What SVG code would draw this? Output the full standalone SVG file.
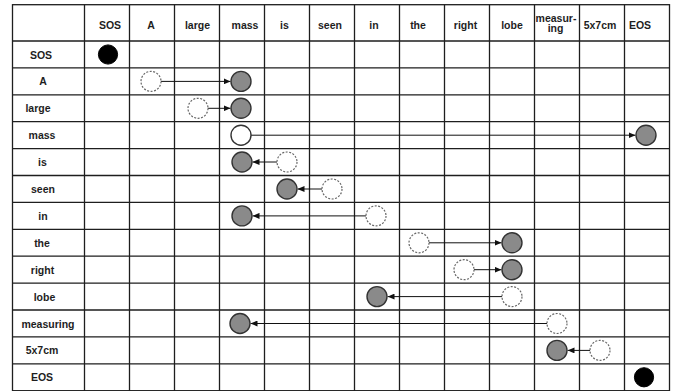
<svg xmlns="http://www.w3.org/2000/svg" width="674" height="391" viewBox="0 0 674 391">
<style>
.grid{stroke:#1e1e1e;stroke-width:1.3;fill:none}
.t{font-family:"Liberation Sans",Arial,sans-serif;font-weight:bold;font-size:10.5px;fill:#1e1e1e;text-anchor:middle}
.head{fill:#8a8a8a;stroke:#333;stroke-width:1.4}
.src{fill:#fff;stroke:#666;stroke-width:1.2;stroke-dasharray:2 1.5}
.solid{fill:#fff;stroke:#333;stroke-width:1.4}
.end{fill:#000;stroke:#000;stroke-width:1}
.arr{stroke:#111;stroke-width:1;fill:none;marker-end:url(#ah)}
</style>
<defs>
<marker id="ah" markerWidth="7" markerHeight="6" refX="7" refY="3" orient="auto" markerUnits="userSpaceOnUse">
<path d="M0,0 L7,3 L0,6 z" fill="#111"/>
</marker>
</defs>
<rect width="674" height="391" fill="#fff"/>
<g id="grid" class="grid">
<rect x="12.5" y="4.7" width="657" height="386"/>
<path d="M84.5,4.7V391 M129.5,4.7V391 M174.5,4.7V391 M219.5,4.7V391 M264.5,4.7V391 M309.5,4.7V391 M354.5,4.7V391 M399.5,4.7V391 M444.5,4.7V391 M489.5,4.7V391 M534.5,4.7V391 M579.5,4.7V391 M624.5,4.7V391"/>
<path d="M12.5,41H669.5 M12.5,67.9H669.5 M12.5,94.8H669.5 M12.5,121.7H669.5 M12.5,148.6H669.5 M12.5,175.5H669.5 M12.5,202.4H669.5 M12.5,229.3H669.5 M12.5,256.2H669.5 M12.5,283.1H669.5 M12.5,310H669.5 M12.5,336.9H669.5 M12.5,363.8H669.5"/>
</g>
<g id="header">
<text class="t" x="110" y="29.3">SOS</text>
<text class="t" x="151" y="29.3">A</text>
<text class="t" x="197.5" y="29.3">large</text>
<text class="t" x="245" y="29.3">mass</text>
<text class="t" x="284.5" y="29.3">is</text>
<text class="t" x="330" y="29.3">seen</text>
<text class="t" x="374" y="29.3">in</text>
<text class="t" x="418" y="29.3">the</text>
<text class="t" x="465.5" y="29.3">right</text>
<text class="t" x="512" y="29.3">lobe</text>
<text class="t" x="556" y="21.5">measur-</text>
<text class="t" x="555.5" y="32">ing</text>
<text class="t" x="600" y="29.3">5x7cm</text>
<text class="t" x="640" y="29.3">EOS</text>
</g>
<g id="rowlabels">
<text class="t" x="41" y="58.5">SOS</text>
<text class="t" x="43" y="85.4">A</text>
<text class="t" x="38" y="112.3">large</text>
<text class="t" x="42" y="139.2">mass</text>
<text class="t" x="42.5" y="166.1">is</text>
<text class="t" x="43" y="193">seen</text>
<text class="t" x="43" y="219.9">in</text>
<text class="t" x="42" y="246.8">the</text>
<text class="t" x="42.5" y="273.7">right</text>
<text class="t" x="44.5" y="300.6">lobe</text>
<text class="t" x="48" y="327.5">measuring</text>
<text class="t" x="42" y="354.4">5x7cm</text>
<text class="t" x="42" y="381.3">EOS</text>
</g>
<g id="connectors">
<line class="arr" x1="161" y1="81.4" x2="230.5" y2="81.4"/>
<line class="arr" x1="208" y1="108.3" x2="230.5" y2="108.3"/>
<line class="arr" x1="251" y1="135.2" x2="635.5" y2="135.2"/>
<line class="arr" x1="277" y1="162" x2="252.5" y2="162"/>
<line class="arr" x1="322" y1="189" x2="297.5" y2="189"/>
<line class="arr" x1="366" y1="215.9" x2="252.5" y2="215.9"/>
<line class="arr" x1="429" y1="242.8" x2="501.5" y2="242.8"/>
<line class="arr" x1="474" y1="269.7" x2="501.5" y2="269.7"/>
<line class="arr" x1="502" y1="296.6" x2="387.5" y2="296.6"/>
<line class="arr" x1="547" y1="323.5" x2="250.5" y2="323.5"/>
<line class="arr" x1="590" y1="350.4" x2="567.5" y2="350.4"/>
</g>
<g id="nodes">
<g id="n-sos"><circle class="end" cx="108" cy="54.5" r="9.6"/></g>
<g id="n-a-src"><circle class="src" cx="151" cy="81.4" r="10"/></g>
<g id="n-a-head"><circle class="head" cx="241" cy="81.4" r="10"/></g>
<g id="n-large-src"><circle class="src" cx="198" cy="108.3" r="10"/></g>
<g id="n-large-head"><circle class="head" cx="241" cy="108.3" r="10"/></g>
<g id="n-mass-src"><circle class="solid" cx="241" cy="135.2" r="10"/></g>
<g id="n-mass-head"><circle class="head" cx="646" cy="135.2" r="10"/></g>
<g id="n-is-src"><circle class="src" cx="287" cy="162" r="10"/></g>
<g id="n-is-head"><circle class="head" cx="242" cy="162" r="10"/></g>
<g id="n-seen-src"><circle class="src" cx="332" cy="189" r="10"/></g>
<g id="n-seen-head"><circle class="head" cx="287" cy="189" r="10"/></g>
<g id="n-in-src"><circle class="src" cx="376" cy="215.9" r="10"/></g>
<g id="n-in-head"><circle class="head" cx="242" cy="215.9" r="10"/></g>
<g id="n-the-src"><circle class="src" cx="419" cy="242.8" r="10"/></g>
<g id="n-the-head"><circle class="head" cx="512" cy="242.8" r="10"/></g>
<g id="n-right-src"><circle class="src" cx="464" cy="269.7" r="10"/></g>
<g id="n-right-head"><circle class="head" cx="512" cy="269.7" r="10"/></g>
<g id="n-lobe-src"><circle class="src" cx="512" cy="296.6" r="10"/></g>
<g id="n-lobe-head"><circle class="head" cx="377" cy="296.6" r="10"/></g>
<g id="n-measuring-src"><circle class="src" cx="557" cy="323.5" r="10"/></g>
<g id="n-measuring-head"><circle class="head" cx="240" cy="323.5" r="10"/></g>
<g id="n-5x7cm-src"><circle class="src" cx="600" cy="350.4" r="10"/></g>
<g id="n-5x7cm-head"><circle class="head" cx="557" cy="350.4" r="10"/></g>
<g id="n-eos"><circle class="end" cx="644" cy="377.3" r="9.6"/></g>
</g>
</svg>
